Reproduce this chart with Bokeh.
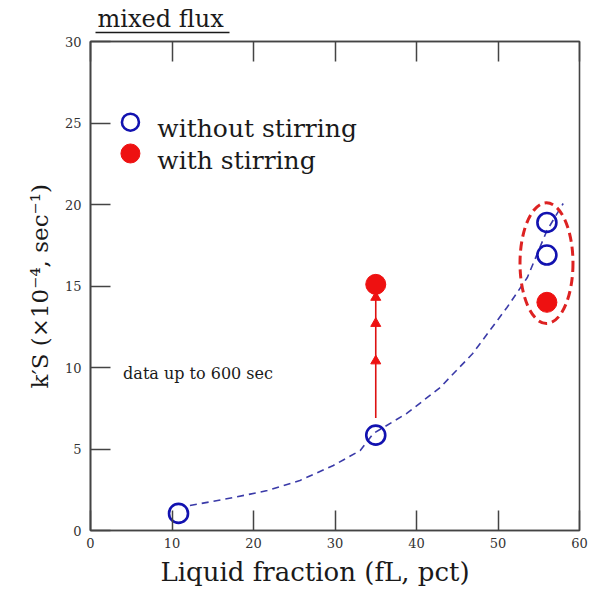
from bokeh.plotting import figure
from bokeh.models import Label, LinearAxis, FixedTicker, Range1d, Title
from bokeh.embed import file_html
from bokeh.resources import INLINE

# ---- data ----
x_ticks = [0, 10, 20, 30, 40, 50, 60]
y_ticks = [0, 5, 10, 15, 20, 25, 30]

without_x = [10.8, 35, 56, 56]
without_y = [1.05, 5.85, 16.9, 18.9]

with_x = [35, 56]
with_y = [15.1, 14.0]

# dashed trend curve
curve_x = [12.2, 17.5, 21.7, 25.7, 29.8, 33.1, 34.7, 38.8, 42.9, 46.9, 51.1, 53.6, 56.0, 58.0]
curve_y = [1.53, 2.02, 2.45, 3.07, 3.99, 4.91, 5.95, 7.18, 8.77, 10.86, 13.68, 15.52, 18.4, 20.06]

# stirring arrow at fL = 35
arrow_x = [35]
arrow_y0 = [6.9]
arrow_y1 = [15.1]
arrowhead_y = [10.4, 12.7, 14.3]

# ellipse around the 56 pct group
ell_x = [55.95]
ell_y = [16.4]
ell_w = [6.5]
ell_h = [7.4]

title_text = "mixed flux"
x_label = "Liquid fraction (fL, pct)"
y_label = "k\u2032S (\u00d710\u207b\u2074, sec\u207b\u00b9)"
legend_labels = ["without stirring", "with stirring"]
note_text = "data up to 600 sec"

FONT = "DejaVu Serif"
INK = "#1a1a1a"
BLUE = "#1212b0"
RED = "#ee1111"

W, H = 590, 592
p = figure(width=W, height=H, x_range=Range1d(0, 60), y_range=Range1d(0, 30),
           output_backend="svg", toolbar_location=None, title=None,
           min_border_left=90, min_border_right=11, min_border_top=41, min_border_bottom=62)
p.background_fill_color = "white"
p.border_fill_color = "white"
p.outline_line_color = "#444444"
p.outline_line_width = 1.6
p.xgrid.visible = False
p.ygrid.visible = False


def style_axis(ax, ticks, standoff):
    ax.ticker = FixedTicker(ticks=ticks)
    ax.major_tick_in = 20
    ax.major_tick_out = 0
    ax.minor_tick_line_color = None
    ax.major_tick_line_color = "#444444"
    ax.major_tick_line_width = 1.5
    ax.axis_line_color = "#444444"
    ax.axis_line_width = 1.6
    ax.major_label_text_font = FONT
    ax.major_label_text_font_size = "13px"
    ax.major_label_text_color = "#333333"
    ax.major_label_standoff = standoff


def bare_axis(bounds="auto", line_color=None):
    ax = LinearAxis(bounds=bounds, ticker=FixedTicker(ticks=[]))
    ax.major_tick_line_color = None
    ax.minor_tick_line_color = None
    ax.major_tick_in = 0
    ax.major_tick_out = 0
    ax.major_label_standoff = 0
    ax.major_label_text_font_size = "0px"
    ax.axis_line_color = line_color
    ax.axis_line_width = 1.5
    return ax


def side_title(text, size, offset, standoff):
    return Title(text=text, align="left", offset=offset, standoff=standoff,
                 text_font=FONT, text_font_size=f"{size}px",
                 text_font_style="normal", text_color=INK)


style_axis(p.xaxis[0], x_ticks, 7)
style_axis(p.yaxis[0], y_ticks, 9)

top = LinearAxis()
style_axis(top, x_ticks, 0)
top.major_label_text_font_size = "0px"
top.major_label_text_color = None
p.add_layout(top, "above")

# spacer (one blank tick label gives the panel some height)
spacer = LinearAxis(ticker=FixedTicker(ticks=[30]), major_label_overrides={30: "\u00a0"})
spacer.major_tick_line_color = None
spacer.minor_tick_line_color = None
spacer.major_tick_in = 0
spacer.major_tick_out = 0
spacer.axis_line_color = None
spacer.major_label_standoff = 0
spacer.major_label_text_font = FONT
spacer.major_label_text_font_size = "5px"
p.add_layout(spacer, "above")

# an axis whose line is the title's underline, then the title itself
p.add_layout(bare_axis(bounds=(0.6, 17.05), line_color=INK), "above")
p.add_layout(side_title(title_text, 24, 7, 0), "above")

# axis titles
p.add_layout(side_title(x_label, 26, 70, 8), "below")
p.add_layout(side_title(y_label, 23, 142, 17), "left")


def lab(text, x, y, size, style="normal", color=INK):
    p.add_layout(Label(x=x, y=y, text=text, text_font=FONT,
                       text_font_size=f"{size}px", text_font_style=style,
                       text_align="left", text_baseline="alphabetic",
                       text_color=color))


# ---- marks ----
p.line(curve_x, curve_y, line_color="#3a3aa8", line_width=1.6, line_dash="7 5")

p.segment(x0=arrow_x, y0=arrow_y0, x1=arrow_x, y1=arrow_y1, line_color="#dd1111", line_width=1.6)
p.scatter([arrow_x[0]] * len(arrowhead_y), arrowhead_y, marker="triangle", size=10,
          fill_color="#ee1111", line_color="#ee1111")

p.ellipse(x=ell_x, y=ell_y, width=ell_w, height=ell_h, fill_color=None,
          line_color="#dd2222", line_width=3, line_dash="9 5")

p.scatter(without_x, without_y, marker="circle", size=19, fill_color=None,
          line_color=BLUE, line_width=2.6)
p.scatter(with_x, with_y, marker="circle", size=20, fill_color=RED, line_color=RED)

# legend (drawn inside the frame, top-left)
p.scatter([4.9], [25.05], marker="circle", size=17, fill_color=None,
          line_color=BLUE, line_width=2.6)
p.scatter([4.9], [23.13], marker="circle", size=19, fill_color=RED, line_color=RED)
lab(legend_labels[0], 8.2, 24.66, 25)
lab(legend_labels[1], 8.2, 22.7, 25)

# note
lab(note_text, 4.0, 9.65, 16)

open("out.html", "w").write(file_html(p, INLINE))
